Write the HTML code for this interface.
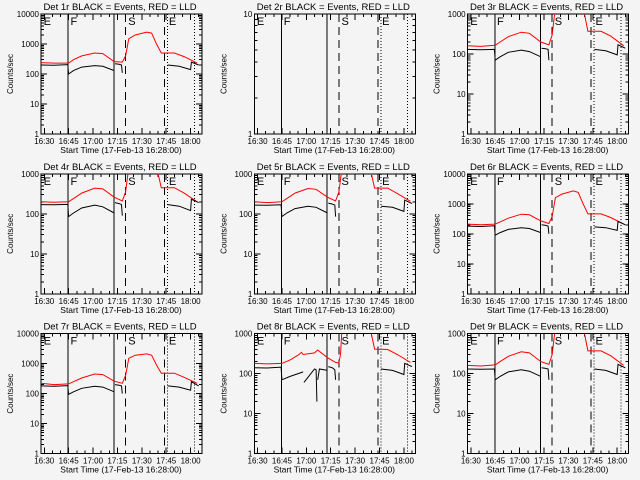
<!DOCTYPE html>
<html><head><meta charset="utf-8"><style>
html,body{margin:0;padding:0;background:#f4f4f4;}
svg{display:block;font-family:"Liberation Sans",sans-serif;}
</style></head><body>
<svg id="fig" width="640" height="480" viewBox="0 0 640 480"></svg>
<script>
// minutes after 16:28
const detNames = ["1r","2r","3r","4r","5r","6r","7r","8r","9r"];
const yTops = [10000,10,1000,1000,1000,10000,10000,1000,1000];
const xTickLabels = ["16:30","16:45","17:00","17:15","17:30","17:45","18:00"];
const xTickMinutes = [2,17,32,47,62,77,92];
const markerMinutes = [16.7,44.8,52,76,77.8,94.3];
const markerStyles = ["solid","solid","dash","dash","dot","dot"];
const markerLetters = ["E","F","S","E"];
const letterMinutes = [1,17.5,53,78];

const blackT = [0,8,16.5,17,20,25,33,38,45,null,45.5,48,49.5,50,null,78,85,92,92.5,97];
const redT = [0,8,17,20,25,33,38,45,50,52,54,58,65,68,71,74,82,88,96];
const black1 = [200,195,205,100,130,170,190,180,130,null,220,210,200,110,null,200,180,140,250,200];
const red1 = [240,230,230,300,400,500,480,260,250,400,1500,2000,2500,2300,1000,500,500,380,230];
const black3 = [130,128,130,70,85,110,125,115,85,null,140,135,130,70,null,130,120,95,170,140];
const red3 = [160,155,165,200,270,350,330,200,170,300,1500,2500,3000,2500,1500,370,370,280,160];
const black4 = [170,168,172,85,105,140,165,150,105,null,190,180,170,90,null,170,155,120,230,190];
const red4 = [200,195,200,240,330,440,420,260,210,350,1500,2500,3000,2500,1500,450,450,330,200];
const black5 = [165,163,168,85,105,135,155,145,105,null,185,175,165,85,null,155,145,115,220,180];
const red5 = [200,190,200,240,330,430,410,260,210,350,1500,2500,3000,2500,1500,440,440,320,205];
const black6 = [180,175,185,90,110,140,160,150,110,null,200,190,180,100,null,170,160,130,260,200];
const red6 = [210,200,210,250,330,450,430,270,220,380,1600,2100,2700,2400,1000,460,460,350,210];
const black7 = [180,175,185,95,115,150,175,165,115,null,200,190,180,100,null,180,165,130,250,180];
const red7 = [220,200,210,250,330,450,430,260,220,400,1500,1900,2100,1900,900,480,480,350,220];
const black8 = [140,138,145,70,85,100,110,null,60,130,125,20,null,70,130,120,null,150,140,125,70,null,130,120,95,180,150];
const black8T = [0,8,16.5,17,22,27,30,null,30.5,37,38,38.5,null,39,40,45,null,45.5,48,49.5,50,null,78,85,92,92.5,97];
const red8 = [180,175,180,220,290,340,300,330,390,250,190,185,300,1500,2500,3000,2500,1500,410,400,300,190];
const red8T = [0,8,17,22,27,29,30,37,39,45,50,52,53,54,58,65,68,71,74,82,88,96];
const blackSeries = [black1,null,black3,black4,black5,black6,black7,black8,black3];
const redSeries = [red1,null,red3,red4,red5,red6,red7,red8,red3];

const NS="http://www.w3.org/2000/svg";
const svg=document.getElementById('fig');
function mk(tag,attrs,parent){const e=document.createElementNS(NS,tag);for(const k in attrs)e.setAttribute(k,attrs[k]);(parent||svg).appendChild(e);return e;}

for(let p=0;p<9;p++){
  const col=p%3,row=Math.floor(p/3);
  const ox=col*213.3, oy=row*159.8;
  const L=ox+41,R=ox+202,T=oy+14,B=oy+134;
  const g=mk('g',{});
  
  
  const top=yTops[p], dec=Math.log10(top);
  const xs=m=>L+(m/99)*(R-L);
  const ys=v=>B-(Math.log10(v)/dec)*(B-T);
  const cid='clip'+p;
  const cp=mk('clipPath',{id:cid},g);mk('rect',{x:L,y:T,width:R-L,height:B-T},cp);
  const tt=mk('text',{x:ox+120,y:oy+10,'font-size':9.5,'text-anchor':'middle',fill:'#000'},g);
  tt.textContent='Det '+detNames[p]+' BLACK = Events, RED = LLD';
  
  
  const yl=mk('text',{x:0,y:0,'font-size':8,'text-anchor':'middle',transform:`translate(${ox+13},${(T+B)/2}) rotate(-90)`},g);
  yl.textContent='Counts/sec';
  
  
  const fr=mk('rect',{x:L,y:T,width:R-L,height:B-T,fill:'none',stroke:'#000','stroke-width':1,'shape-rendering':'crispEdges'},g);
  
  
  for(let d=0;d<=dec;d++){
    const v=Math.pow(10,d),y=ys(v);
    mk('line',{x1:L,x2:L+6,y1:y,y2:y,stroke:'#000','shape-rendering':'crispEdges'},g);
    mk('line',{x1:R,x2:R-6,y1:y,y2:y,stroke:'#000','shape-rendering':'crispEdges'},g);
    const lb=mk('text',{x:L-2,y:y+3,'font-size':8,'text-anchor':'end'},g);
    lb.textContent=String(v);
    
    
    if(d<dec)for(let k=2;k<10;k++){const yy=ys(v*k);
      mk('line',{x1:L,x2:L+3,y1:yy,y2:yy,stroke:'#000','shape-rendering':'crispEdges'},g);
      mk('line',{x1:R,x2:R-3,y1:yy,y2:yy,stroke:'#000','shape-rendering':'crispEdges'},g);}
  }
  for(let m=2;m<99;m+=5){const x=xs(m),maj=((m-2)%15===0);
    mk('line',{x1:x,x2:x,y1:B,y2:B-(maj?6:3),stroke:'#000','shape-rendering':'crispEdges'},g);
    mk('line',{x1:x,x2:x,y1:T,y2:T+(maj?6:3),stroke:'#000','shape-rendering':'crispEdges'},g);}
  xTickLabels.forEach((s,i)=>{const t=mk('text',{x:xs(xTickMinutes[i]),y:B+10,'font-size':8,'text-anchor':'middle'},g);t.textContent=s;
    
    });
  const xt=mk('text',{x:ox+121,y:B+19,'font-size':8.5,'text-anchor':'middle'},g);
  xt.textContent='Start Time (17-Feb-13 16:28:00)';
  
  
  markerMinutes.forEach((m,i)=>{const x=xs(m);const st=markerStyles[i];
    const ln=mk('line',{x1:x,x2:x,y1:T,y2:B,stroke:'#000','stroke-width':1,'shape-rendering':'crispEdges','stroke-dasharray':st==='dash'?'8,5':st==='dot'?'1,2':'none'},g);
    
    });
  markerLetters.forEach((s,i)=>{const t=mk('text',{x:xs(letterMinutes[i])+1,y:T+11,'font-size':11},g);t.textContent=s;
    
    });
  function draw(T_,V,color,name){if(!V)return;let d='',pen=false;
    for(let i=0;i<V.length;i++){if(V[i]==null||T_[i]==null){pen=false;continue;}
      d+=(pen?'L':'M')+xs(T_[i]).toFixed(1)+','+ys(V[i]).toFixed(1);pen=true;}
    const pa=mk('path',{d,fill:'none',stroke:color,'stroke-width':1,'clip-path':`url(#${cid})`},g);
    
    }
  draw(p===7?red8T:redT,redSeries[p],'#ff0000','lld-series');
  draw(p===7?black8T:blackT,blackSeries[p],'#000','events-series');
}
</script>
</body></html>
